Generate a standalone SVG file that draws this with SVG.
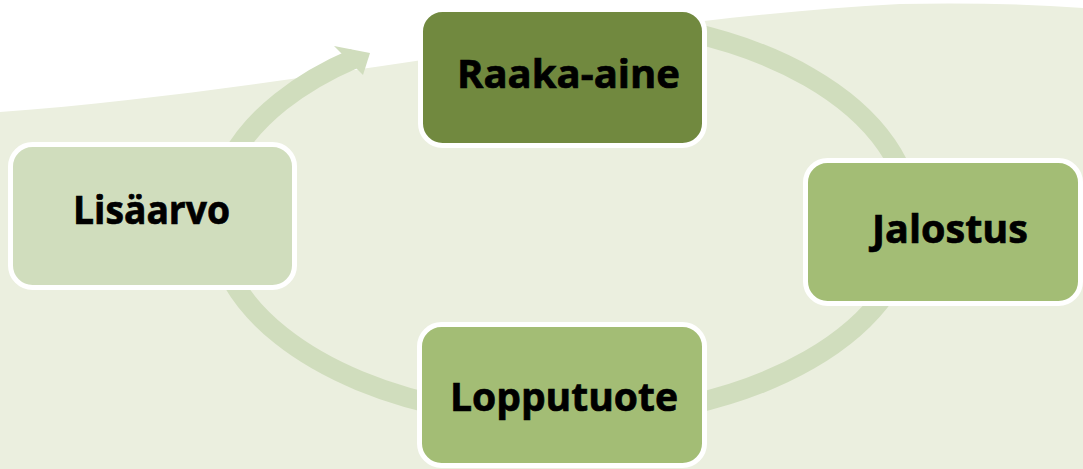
<svg xmlns="http://www.w3.org/2000/svg" width="1083" height="469" viewBox="0 0 1083 469">
<style>
.node{stroke:#ffffff;stroke-width:5}
.lbl{font-family:"Open Sans","Liberation Sans",sans-serif;font-weight:700;font-size:40px;fill:#000000;stroke:#000000;stroke-width:0.7;text-anchor:middle}
.arc{fill:none;stroke:#d0ddbd;stroke-width:20}
</style>
<rect x="0" y="0" width="1083" height="469" fill="#ffffff"/>
<path d="M0,112 C300,90 600,20 900,4 Q1000,2 1083,8 L1083,469 L0,469 Z" fill="#ebefdf"/>
<g id="connectors">
<path class="arc" d="M563,18.5 A348,200 0 0 1 563,418.5 A348,200 0 0 1 355,58.2"/>
<polygon points="334,46 370,53 363,75" fill="#d0ddbd"/>
</g>
<g id="node-raaka-aine">
<rect class="node" x="420.5" y="9.5" width="284" height="136" rx="22" fill="#71893f"/>
<text class="lbl" x="568.5" y="88" textLength="223" lengthAdjust="spacingAndGlyphs">Raaka-aine</text>
</g>
<g id="node-jalostus">
<rect class="node" x="805.5" y="160.5" width="275" height="143" rx="22" fill="#a3bd75"/>
<text class="lbl" x="950" y="243" textLength="156" lengthAdjust="spacingAndGlyphs">Jalostus</text>
</g>
<g id="node-lopputuote">
<rect class="node" x="419.5" y="324.5" width="285" height="141" rx="22" fill="#a3bd75"/>
<text class="lbl" x="564" y="411" textLength="228" lengthAdjust="spacingAndGlyphs">Lopputuote</text>
</g>
<g id="node-lisaarvo">
<rect class="node" x="10.5" y="144.5" width="284" height="143" rx="22" fill="#d0ddbd"/>
<text class="lbl" x="151.5" y="224" textLength="157" lengthAdjust="spacingAndGlyphs">Lisäarvo</text>
</g>
</svg>
